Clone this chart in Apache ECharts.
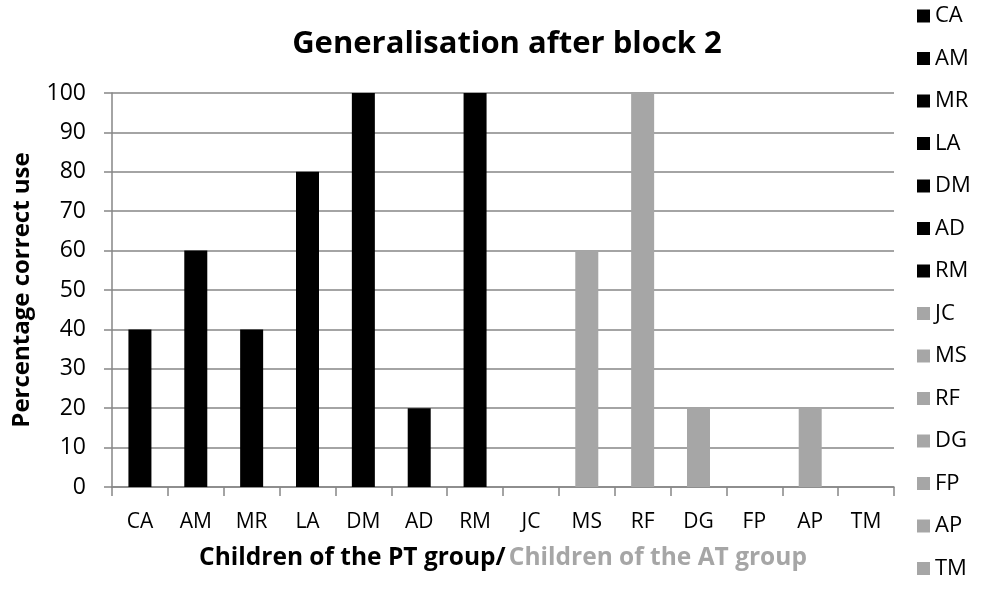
<!DOCTYPE html>
<html>
<head>
<meta charset="utf-8">
<script src="https://cdn.jsdelivr.net/npm/echarts@6/dist/echarts.min.js"></script>
<style>
  html, body { margin: 0; padding: 0; background: #fff; }
  #chart { width: 1005px; height: 602px; }
</style>
</head>
<body>
<div id="chart"></div>
<script>
const children = ["CA", "AM", "MR", "LA", "DM", "AD", "RM", "JC", "MS", "RF", "DG", "FP", "AP", "TM"];
const percentCorrect = [40, 60, 40, 80, 100, 20, 100, 0, 60, 100, 20, 0, 20, 0];
const groups = ["PT", "PT", "PT", "PT", "PT", "PT", "PT", "AT", "AT", "AT", "AT", "AT", "AT", "AT"];
const yTicks = [0, 10, 20, 30, 40, 50, 60, 70, 80, 90, 100];

const groupColor = { PT: "#000000", AT: "#a6a6a6" };
const axisGrey = "#868686";
const font = "Open Sans";

// one series per child, so each one gets its own legend entry
const series = children.map((name, i) => ({
  name: name,
  type: "bar",
  stack: "all",
  barWidth: 23,
  itemStyle: { color: groupColor[groups[i]] },
  data: children.map((c, k) => (k === i ? percentCorrect[i] : "-")),
}));

const chart = echarts.init(document.getElementById("chart"));
chart.setOption({
  animation: false,
  textStyle: { fontFamily: font },
  title: {
    text: "Generalisation after block 2",
    left: 502,
    textAlign: "center",
    top: 24,
    textStyle: { fontFamily: font, fontSize: 31, fontWeight: "bold", color: "#000" },
  },
  legend: {
    orient: "vertical",
    left: 912,
    top: 0,
    height: 602,
    itemWidth: 13,
    itemHeight: 13,
    itemGap: 20.5,
    icon: "rect",
    textStyle: { fontFamily: font, fontSize: 22, color: "#000" },
    data: children,
  },
  grid: { left: 112, right: 111, top: 93, bottom: 115 },
  xAxis: {
    type: "category",
    data: children,
    boundaryGap: true,
    name: "{pt|Children of the PT group/} {at|Children of the AT group}",
    nameLocation: "middle",
    nameGap: 59,
    nameTextStyle: {
      rich: {
        pt: { fontFamily: font, fontSize: 24.5, fontWeight: "bold", color: "#000" },
        at: { fontFamily: font, fontSize: 24.5, fontWeight: "bold", color: "#a6a6a6" },
      },
    },
    axisLine: { lineStyle: { color: axisGrey, width: 1.5 } },
    axisTick: { show: true, length: 9, lineStyle: { color: axisGrey, width: 1.5 } },
    axisLabel: { fontFamily: font, fontSize: 21, color: "#000", margin: 25 },
  },
  yAxis: {
    type: "value",
    min: yTicks[0],
    max: yTicks[yTicks.length - 1],
    interval: 10,
    name: "Percentage correct use",
    nameLocation: "middle",
    nameGap: 78,
    nameTextStyle: { fontFamily: font, fontSize: 24, fontWeight: "bold", color: "#000" },
    axisLine: { show: true, lineStyle: { color: axisGrey, width: 1.5 } },
    axisTick: { show: true, length: 8, lineStyle: { color: axisGrey, width: 1.5 } },
    axisLabel: { fontFamily: font, fontSize: 23, color: "#000", margin: 26 },
    splitLine: { lineStyle: { color: axisGrey, width: 1.5 } },
  },
  series: series,
});
</script>
</body>
</html>
